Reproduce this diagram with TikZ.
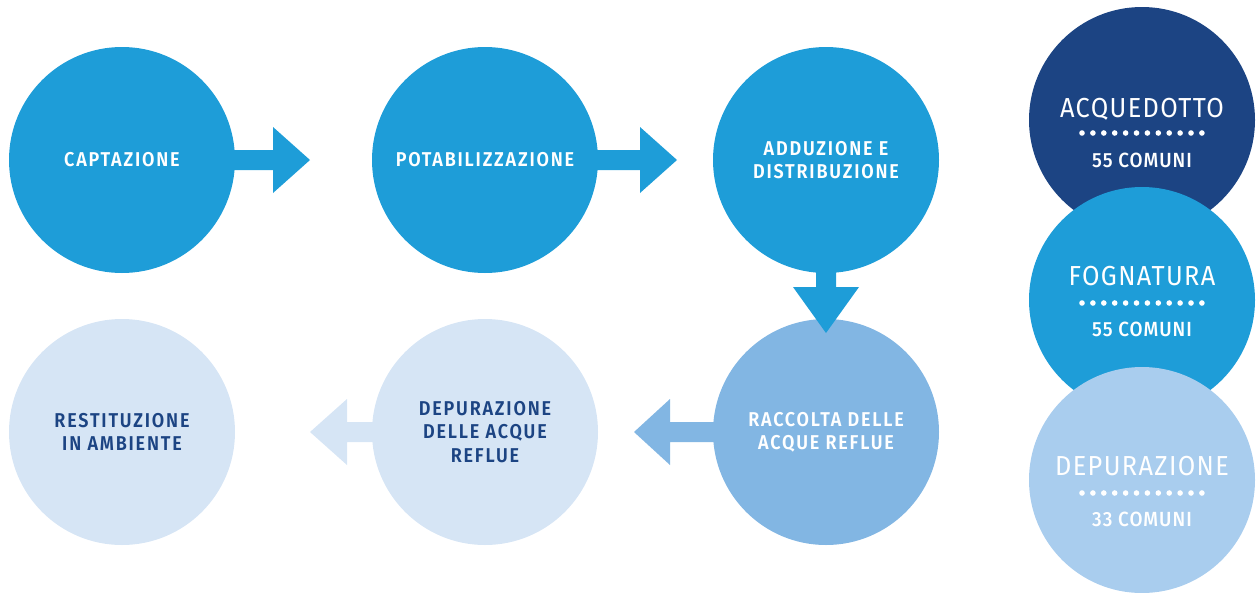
\documentclass[tikz,border=0pt]{standalone}
\usepackage{fontspec}
\setmainfont{Fira Sans}
\IfFontExistsTF{Fira Sans SemiBold}
  {\newfontfamily\stagefont{Fira Sans SemiBold}[LetterSpace=9,FakeStretch=0.9]}
  {\newfontfamily\stagefont{Fira Sans}[LetterSpace=9,FakeStretch=0.9,UprightFont=*-Bold]}
\IfFontExistsTF{Fira Sans Medium}
  {\newfontfamily\subfont{Fira Sans Medium}[LetterSpace=5,FakeStretch=0.92]}
  {\newfontfamily\subfont{Fira Sans}[LetterSpace=5,FakeStretch=0.92]}
\newfontfamily\sidefont{Fira Sans}[LetterSpace=5,FakeStretch=0.92]
\usetikzlibrary{calc}
\definecolor{cblue}{HTML}{1E9DD8}
\definecolor{cdark}{HTML}{1C4483}
\definecolor{cmid}{HTML}{82B6E3}
\definecolor{clight}{HTML}{D6E5F5}
\definecolor{cpale}{HTML}{A9CDEE}
\begin{document}
\begin{tikzpicture}[x=1pt,y=-1pt]
\useasboundingbox (0,0) rectangle (1256,592);
\tikzset{
  stage/.style={circle, minimum size=226pt, inner sep=0pt, align=center,
    font=\stagefont\fontsize{20}{23.3}\selectfont},
  side/.style={circle, minimum size=226pt, inner sep=0pt},
  sidetitle/.style={anchor=base, inner sep=0pt, text=white, font=\sidefont\fontsize{27.5}{30}\selectfont},
  sidesub/.style={anchor=base, inner sep=0pt, text=white, font=\subfont\fontsize{20.5}{22}\selectfont},
}
% top row
\node[stage, fill=cblue, text=white] (cap) at (122,160) {CAPTAZIONE};
\node[stage, fill=cblue, text=white] (pot) at (485,160) {POTABILIZZAZIONE};
\node[stage, fill=cblue, text=white] (add) at (826,160) {ADDUZIONE E\\DISTRIBUZIONE};
% bottom row
\node[stage, fill=cmid, text=white] (rac) at (826,432) {RACCOLTA DELLE\\ACQUE REFLUE};
\node[stage, fill=clight, text=cdark] (dep) at (485,432) {DEPURAZIONE\\DELLE ACQUE\\REFLUE};
\node[stage, fill=clight, text=cdark] (res) at (122,432) {RESTITUZIONE\\IN AMBIENTE};
% arrows
\coordinate (t1) at (310,160);
\fill[cblue] ($(cap.east)+(-6,-10)$) -- ($(t1)+(-37,-10)$) -- ($(t1)+(-37,-33)$) -- (t1)
  -- ($(t1)+(-37,33)$) -- ($(t1)+(-37,10)$) -- ($(cap.east)+(-6,10)$) -- cycle;
\coordinate (t2) at (677,160);
\fill[cblue] ($(pot.east)+(-6,-10)$) -- ($(t2)+(-37,-10)$) -- ($(t2)+(-37,-33)$) -- (t2)
  -- ($(t2)+(-37,33)$) -- ($(t2)+(-37,10)$) -- ($(pot.east)+(-6,10)$) -- cycle;
\coordinate (t3) at (826,333);
\fill[cblue] ($(add.south)+(-10,-6)$) -- ($(t3)+(-10,-46)$) -- ($(t3)+(-33,-46)$) -- (t3)
  -- ($(t3)+(33,-46)$) -- ($(t3)+(10,-46)$) -- ($(add.south)+(10,-6)$) -- cycle;
\coordinate (t5) at (634,432);
\fill[cmid] ($(rac.west)+(6,-10)$) -- ($(t5)+(36,-10)$) -- ($(t5)+(36,-33)$) -- (t5)
  -- ($(t5)+(36,33)$) -- ($(t5)+(36,10)$) -- ($(rac.west)+(6,10)$) -- cycle;
\coordinate (t4) at (310,432);
\fill[clight] ($(dep.west)+(6,-10)$) -- ($(t4)+(37,-10)$) -- ($(t4)+(37,-33)$) -- (t4)
  -- ($(t4)+(37,33)$) -- ($(t4)+(37,10)$) -- ($(dep.west)+(6,10)$) -- cycle;
% right column
\node[side, fill=cdark] (acq) at (1142,120) {};
\node[sidetitle] (acqt) at ($(acq)+(0,-3)$) {ACQUEDOTTO};
\foreach \i in {0,...,11} \fill[white] ($(acq)+(-60+\i*10.9,13)$) circle (2.8);
\node[sidesub] (acqs) at ($(acq)+(0,47)$) {55 COMUNI};
\node[side, fill=cblue] (fog) at (1142,300) {};
\node[sidetitle] (fogt) at ($(fog)+(0,-15)$) {FOGNATURA};
\foreach \i in {0,...,11} \fill[white] ($(fog)+(-60+\i*10.9,3)$) circle (2.8);
\node[sidesub] (fogs) at ($(fog)+(0,36)$) {55 COMUNI};
\node[side, fill=cpale] (dpr) at (1142,480) {};
\node[sidetitle] (dprt) at ($(dpr)+(0,-5)$) {DEPURAZIONE};
\foreach \i in {0,...,11} \fill[white] ($(dpr)+(-60+\i*10.9,13)$) circle (2.8);
\node[sidesub] (dprs) at ($(dpr)+(0,46)$) {33 COMUNI};
\end{tikzpicture}
\end{document}
